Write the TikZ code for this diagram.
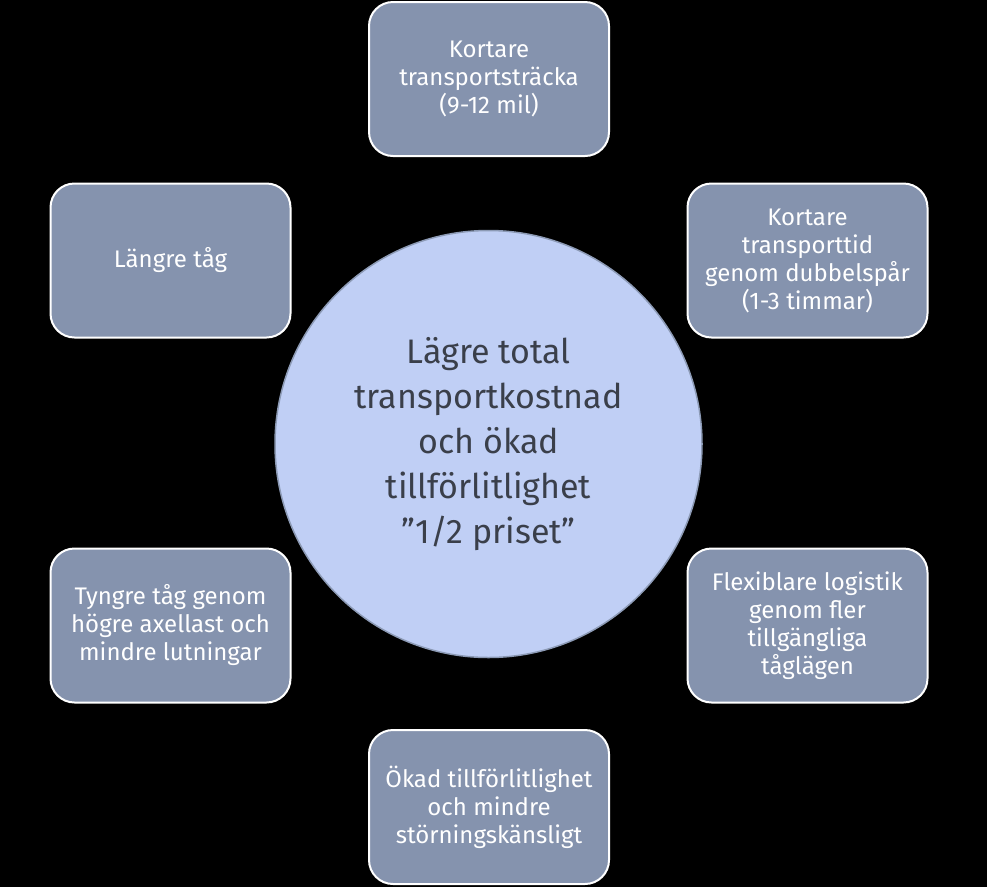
\documentclass[tikz,border=0pt]{standalone}
\usepackage{fontspec}
\setmainfont{Fira Sans}
\begin{document}
\begin{tikzpicture}[x=1pt,y=-1pt,
  box/.style={draw=white,line width=2pt,fill=boxfill,rounded corners=24pt,
    minimum width=240pt,minimum height=154pt,text=white,align=center,
    font=\fontsize{24}{28}\selectfont,inner sep=0pt},
  hub/.style={circle,draw=hubline,line width=1.5pt,fill=hubfill,minimum size=427pt,
    text=hubtext,align=center,font=\fontsize{34}{45}\selectfont,inner sep=0pt}]
\definecolor{boxfill}{HTML}{8593AE}
\definecolor{hubfill}{HTML}{C0CFF5}
\definecolor{hubline}{HTML}{8C9AB5}
\definecolor{hubtext}{HTML}{3A3F4A}
\fill[black] (0,0) rectangle (987,887);
\useasboundingbox (0,0) rectangle (987,887);
\node[hub] (c) at (488.5,444) {Lägre total\\transportkostnad\\och ökad\\tillförlitlighet\\”1/2 priset”};
\node[box] (t) at (489,79) {Kortare\\transportsträcka\\(9-12 mil)};
\node[box] (lu) at (170.5,260.5) {Längre tåg};
\node[box] (ru) at (807.5,260.5) {Kortare\\transporttid\\genom dubbelspår\\(1-3 timmar)};
\node[box] (ll) at (170.5,625.5) {Tyngre tåg genom\\högre axellast och\\mindre lutningar};
\node[box] (rl) at (807.5,625.5) {Flexiblare logistik\\genom fler\\tillgängliga\\tåglägen};
\node[box] (b) at (489,807) {Ökad tillförlitlighet\\och mindre\\störningskänsligt};
\end{tikzpicture}
\end{document}
